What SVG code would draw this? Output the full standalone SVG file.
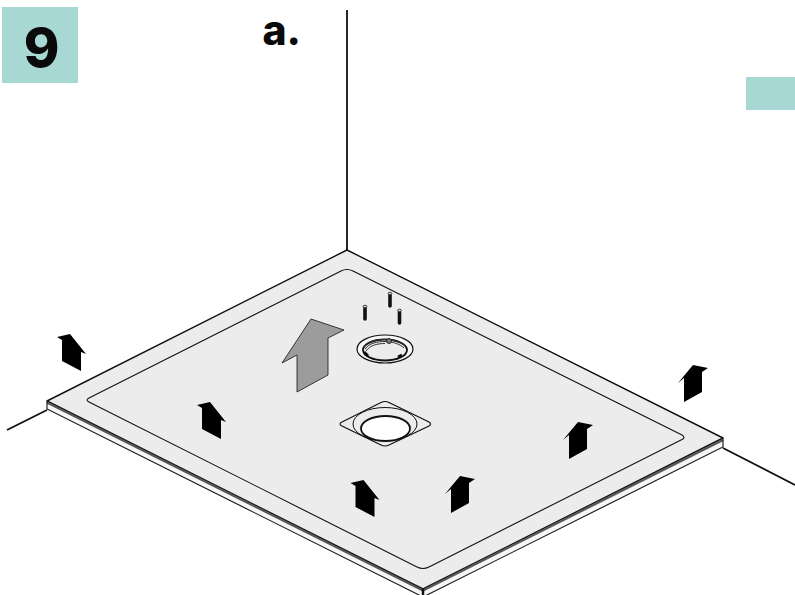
<svg xmlns="http://www.w3.org/2000/svg" width="795" height="595" viewBox="0 0 795 595">
<style>
.ln{fill:none;stroke:#111;stroke-width:1.800}
.thin{fill:none;stroke:#111;stroke-width:1.100}
.teal{fill:#a8d8d4}
.t{font-family:Inter,"Liberation Sans",sans-serif;font-weight:800;fill:#0a0a0a}
.sc{stroke:#111;stroke-width:3.600;stroke-linecap:round}
</style>
<defs>
<path id="al" d="M-24-34-11-37 5-17 0-19V0L-19-10V-31Z" fill="#000"/>
<path id="ar" d="M-6-19 9-37 24-34 18-30V-10L0 0V-24Z" fill="#000"/>
</defs>
<rect width="795" height="595" fill="#fff"/>
<g id="labels">
<rect class="teal" x="2" y="7" width="76" height="76"/>
<text class="t" x="41.500" y="67" font-size="54" text-anchor="middle">9</text>
<text class="t" x="262.500" y="45" font-size="41" font-weight="900">a.</text>
<rect class="teal" x="746" y="77" width="49" height="33"/>
</g>
<g id="walls">
<path class="ln" d="M347 10V250M47 410 7 430M723 448 795 485"/>
</g>
<g id="tray">
<path d="M347 250 723 438V447L423 597 47 409V401Z" fill="#f6f6f6"/>
<path d="M347 250 723 438 423 589 47 401Z" fill="#ececec" stroke="#111" stroke-width="1.400" stroke-linejoin="round"/>
<path d="M47 402.500 423 590.500 723 440" fill="none" stroke="#555" stroke-width="2.200"/>
<path class="thin" d="M47 401V409L423 597 723 447V438"/>
<path d="M423 589V595" stroke="#111" stroke-width="2.500"/>
<path class="thin" d="M341 271Q347 268 353 271L682 435Q686 437.500 682 439.500L429 567Q423 570 417 567L89 402Q85 400 89 398Z"/>
</g>
<g id="drain">
<path d="M381 402.500Q385 400.500 389 402.500L429 422Q432 424 429 426L389 445Q385 447 381 445L342 426Q338 424 342 422Z" fill="#ececec" stroke="#111" stroke-width="1.200"/>
<ellipse cx="385" cy="424" rx="32" ry="16.500" fill="none" stroke="#111" stroke-width="1"/>
<ellipse cx="385.500" cy="428.500" rx="24.500" ry="12.500" fill="#fff" stroke="#111" stroke-width="1.800"/>
</g>
<g id="ring">
<ellipse cx="385" cy="349" rx="28" ry="14" fill="#f6f6f6" stroke="#111" stroke-width="1.200"/>
<ellipse cx="385" cy="350" rx="22" ry="10.500" fill="#ececec" stroke="#111" stroke-width="1.800"/>
<path d="M364 347C367 341 378 339 385 339.500S403 342 405 346M365 349C369 343 378 341.500 385 341.500S400 344 404 348M366 351C370 345 378 343.500 385 343.500" fill="none" stroke="#333" stroke-width="1"/>
<circle cx="389" cy="341" r="2.500" fill="#777" stroke="#111" stroke-width=".8"/>
<path d="M364 352 368 356M398 357 402 355" stroke="#111" stroke-width="3"/>
</g>
<g id="screws">
<path class="sc" d="M365 308V319M390 295V306M399.500 312V323"/>
<g fill="#ccc" stroke="#111" stroke-width=".7"><ellipse cx="365" cy="306.500" rx="2" ry="1.300"/><ellipse cx="390" cy="293.500" rx="2" ry="1.300"/><ellipse cx="399.500" cy="310.500" rx="2" ry="1.300"/></g>
</g>
<g id="arrows">
<path id="big-arrow" d="M311 319 344 330 328 338V375L297 392V355L282 363Z" fill="#9c9c9c" stroke="#111" stroke-width=".8" stroke-linejoin="round"/>
<use href="#al" x="81" y="371"/>
<use href="#al" x="221" y="439"/>
<use href="#al" x="374.500" y="517"/>
<use href="#ar" x="451" y="513"/>
<use href="#ar" x="569" y="459"/>
<use href="#ar" x="684" y="402"/>
</g>
</svg>
